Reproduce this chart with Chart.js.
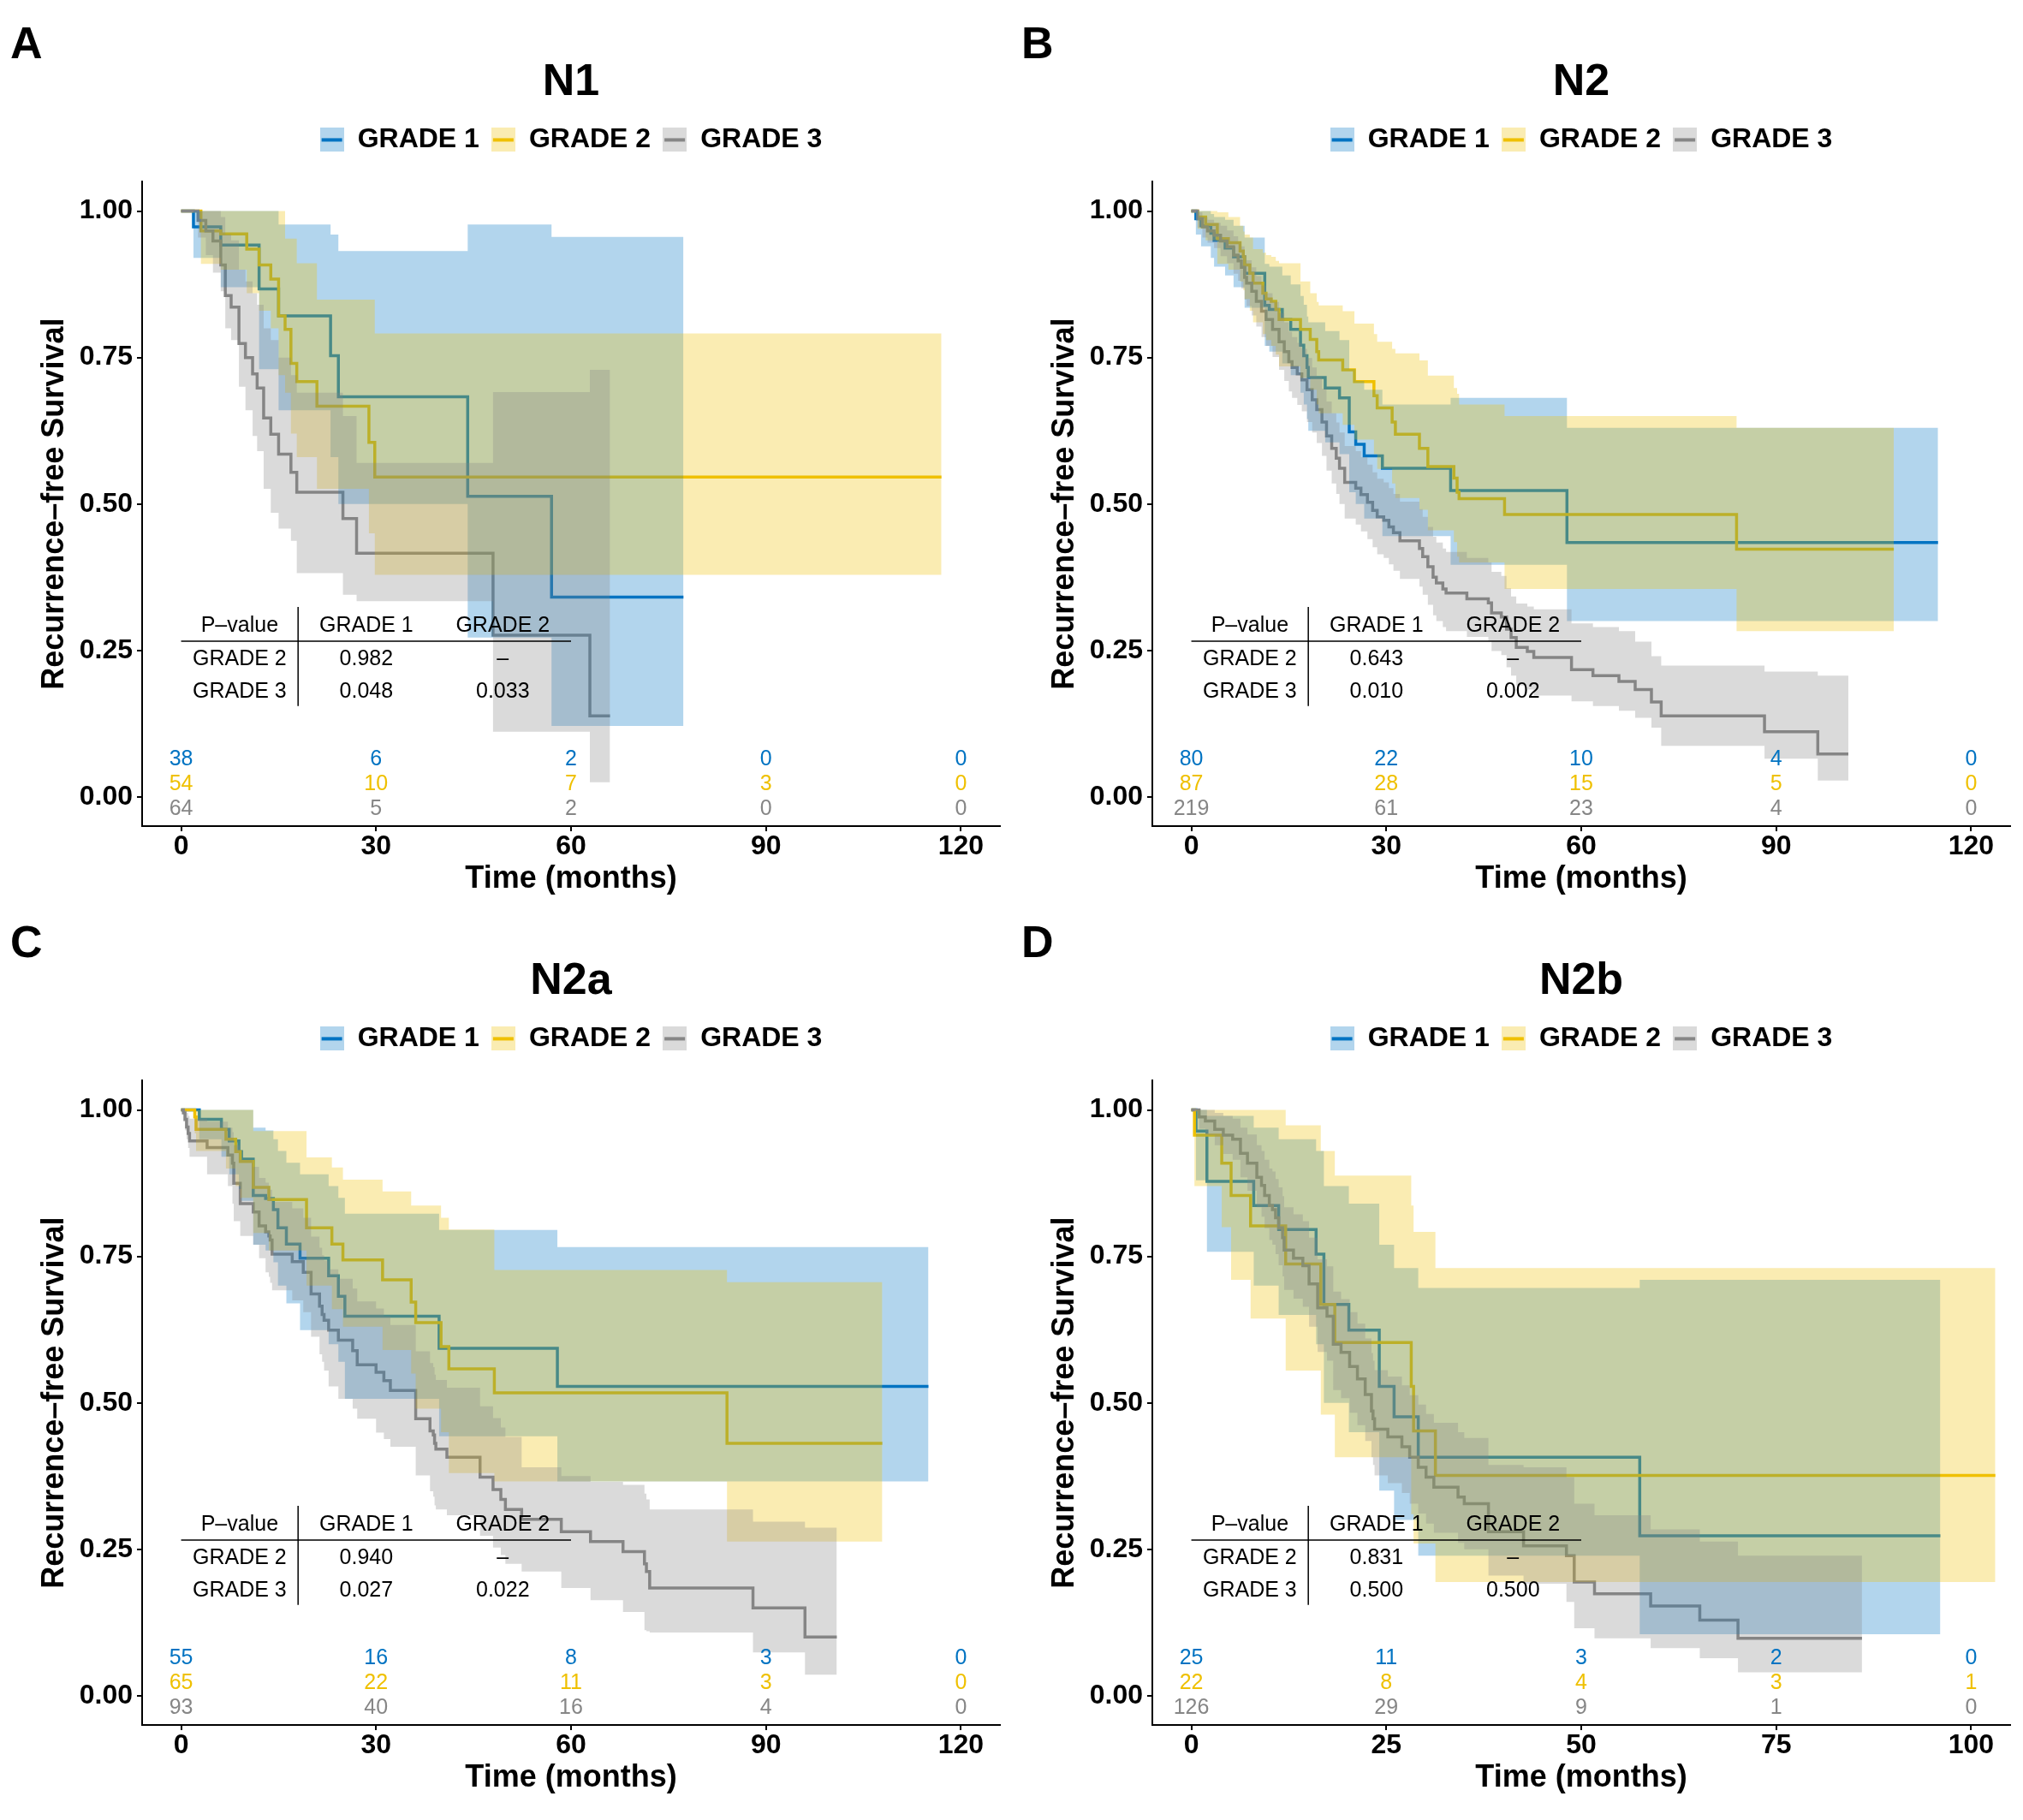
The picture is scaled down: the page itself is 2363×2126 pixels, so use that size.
<!DOCTYPE html>
<html>
<head>
<meta charset="utf-8">
<script src="https://cdn.jsdelivr.net/npm/chart.js@4.4.0/dist/chart.umd.min.js"></script>
<style>
  html, body { margin: 0; padding: 0; background: #ffffff; }
  body { width: 2363px; height: 2126px; position: relative; overflow: hidden; }
  canvas { position: absolute; }
  .lbl { position: absolute; font: bold 52px "Liberation Sans", Arial, Helvetica, sans-serif; line-height: 52px; color: #000; }
</style>
</head>
<body>
<div class="lbl" style="left:12px;top:24px;">A</div>
<div class="lbl" style="left:1193px;top:24px;">B</div>
<div class="lbl" style="left:12px;top:1074px;">C</div>
<div class="lbl" style="left:1193px;top:1074px;">D</div>
<canvas id="cA" width="1180" height="1050" style="left:0px;top:0px;"></canvas>
<canvas id="cB" width="1183" height="1050" style="left:1180px;top:0px;"></canvas>
<canvas id="cC" width="1180" height="1050" style="left:0px;top:1050px;"></canvas>
<canvas id="cD" width="1183" height="1050" style="left:1180px;top:1050px;"></canvas>
<script>
// ---------------- DATA ----------------
const GRADES = ['GRADE 1', 'GRADE 2', 'GRADE 3'];
const TITLES = ['N1', 'N2', 'N2a', 'N2b'];
const yTicks = [0, 0.25, 0.5, 0.75, 1];
const xTicks120 = [0, 30, 60, 90, 120];
const xTicks100 = [0, 25, 50, 75, 100];

// Panel A (N1)
const A_t1 = [0, 1.9, 6.1, 12.0, 15.0, 23.0, 24.2, 44.1, 57.0, 77.3];
const A_s1 = [1, 0.973, 0.942, 0.867, 0.821, 0.753, 0.683, 0.513, 0.341, 0.341];
const A_u1 = [1, 1, 1, 1, 0.977, 0.96, 0.932, 0.977, 0.956, 0.956];
const A_l1 = [1, 0.92, 0.87, 0.73, 0.66, 0.58, 0.50, 0.272, 0.121, 0.121];
const A_t2 = [0, 3.05, 6.1, 10.1, 12.0, 13.8, 15.0, 16.0, 16.9, 17.8, 20.9, 28.9, 29.8, 117.0];
const A_s2 = [1, 0.966, 0.961, 0.935, 0.908, 0.884, 0.821, 0.798, 0.740, 0.709, 0.667, 0.605, 0.546, 0.546];
const A_u2 = [1, 1, 1, 1, 1, 1, 1, 0.953, 0.953, 0.911, 0.849, 0.849, 0.791, 0.791];
const A_l2 = [1, 0.91, 0.90, 0.86, 0.83, 0.80, 0.72, 0.69, 0.62, 0.58, 0.526, 0.45, 0.379, 0.379];
const A_t3 = [0, 2.6, 3.8, 4.9, 6.1, 6.8, 7.7, 8.9, 9.9, 11.0, 11.7, 12.7, 13.8, 15.0, 16.9, 17.8, 24.9, 27.0, 48.0, 62.9, 66.0];
const A_s3 = [1, 0.984, 0.966, 0.949, 0.908, 0.856, 0.836, 0.774, 0.750, 0.722, 0.698, 0.647, 0.619, 0.585, 0.554, 0.520, 0.475, 0.416, 0.276, 0.138, 0.138];
const A_u3 = [1, 1, 1, 1, 0.99, 0.96, 0.95, 0.90, 0.88, 0.86, 0.84, 0.80, 0.78, 0.75, 0.72, 0.69, 0.65, 0.57, 0.691, 0.729, 0.729];
const A_l3 = [1, 0.955, 0.925, 0.895, 0.863, 0.80, 0.78, 0.70, 0.66, 0.616, 0.59, 0.526, 0.485, 0.458, 0.437, 0.382, 0.345, 0.334, 0.111, 0.025, 0.025];
const A_risk = [[38, 6, 2, 0, 0], [54, 10, 7, 3, 0], [64, 5, 2, 0, 0]];
const A_pval = [['0.982', '–'], ['0.048', '0.033']];

// Panel B (N2)
const B_t1 = [0, 0.7, 1.5, 3.0, 3.5, 5.2, 6.5, 8.2, 11.3, 12.0, 14.0, 15.3, 16.8, 17.3, 17.8, 18.0, 20.6, 22.8, 24.3, 25.3, 26.6, 29.4, 39.9, 57.8, 114.9];
const B_s1 = [1, 0.987, 0.975, 0.962, 0.950, 0.937, 0.922, 0.894, 0.839, 0.832, 0.815, 0.798, 0.771, 0.753, 0.733, 0.716, 0.698, 0.681, 0.623, 0.602, 0.582, 0.561, 0.523, 0.434, 0.434];
const B_u1 = [1, 1, 1, 0.995, 0.99, 0.985, 0.975, 0.955, 0.91, 0.905, 0.89, 0.875, 0.855, 0.84, 0.82, 0.81, 0.795, 0.78, 0.73, 0.71, 0.695, 0.67, 0.681, 0.63, 0.63];
const B_l1 = [1, 0.96, 0.94, 0.92, 0.905, 0.89, 0.87, 0.835, 0.77, 0.76, 0.74, 0.72, 0.69, 0.67, 0.645, 0.625, 0.605, 0.585, 0.52, 0.50, 0.475, 0.445, 0.396, 0.30, 0.30];
const B_t2 = [0, 0.96, 2.2, 4.0, 5.7, 7.5, 8.0, 8.2, 9.0, 9.5, 11.0, 11.5, 12.3, 13.0, 13.5, 16.8, 18.3, 19.3, 19.6, 23.3, 25.1, 28.1, 28.6, 30.9, 31.4, 35.1, 36.4, 40.4, 40.9, 41.2, 48.2, 83.9, 108.1];
const B_s2 = [1, 0.990, 0.977, 0.953, 0.946, 0.932, 0.922, 0.908, 0.894, 0.877, 0.860, 0.850, 0.846, 0.832, 0.815, 0.798, 0.781, 0.760, 0.746, 0.729, 0.709, 0.685, 0.664, 0.640, 0.619, 0.595, 0.564, 0.544, 0.520, 0.509, 0.482, 0.423, 0.423];
const B_u2 = [1, 1, 1, 0.998, 0.99, 0.975, 0.965, 0.96, 0.955, 0.935, 0.929, 0.925, 0.922, 0.915, 0.911, 0.88, 0.86, 0.845, 0.839, 0.829, 0.808, 0.79, 0.777, 0.765, 0.757, 0.745, 0.719, 0.698, 0.688, 0.67, 0.65, 0.63, 0.63];
const B_l2 = [1, 0.97, 0.95, 0.91, 0.90, 0.88, 0.865, 0.85, 0.83, 0.81, 0.79, 0.78, 0.77, 0.755, 0.735, 0.715, 0.695, 0.67, 0.655, 0.635, 0.61, 0.585, 0.56, 0.535, 0.51, 0.49, 0.455, 0.435, 0.41, 0.40, 0.355, 0.283, 0.283];
const B_t3 = [0, 0.96, 1.7, 2.5, 3.5, 4.5, 5.5, 6.5, 7.2, 7.7, 8.2, 8.5, 9.3, 10.0, 10.8, 11.5, 12.5, 13.5, 14.3, 15.0, 15.5, 16.3, 17.0, 17.8, 18.6, 19.3, 20.1, 20.8, 21.6, 22.3, 22.8, 23.6, 25.3, 26.1, 27.1, 27.9, 28.6, 29.6, 30.4, 31.1, 32.1, 35.1, 35.6, 36.4, 37.2, 37.7, 38.7, 39.2, 42.4, 45.7, 46.2, 47.7, 48.5, 49.2, 50.0, 51.7, 52.7, 58.5, 61.8, 65.8, 68.3, 70.8, 72.3, 88.2, 96.4, 101.1];
const B_s3 = [1, 0.987, 0.973, 0.966, 0.959, 0.949, 0.939, 0.925, 0.915, 0.904, 0.887, 0.877, 0.863, 0.846, 0.829, 0.815, 0.798, 0.777, 0.760, 0.743, 0.733, 0.722, 0.712, 0.695, 0.678, 0.661, 0.640, 0.616, 0.595, 0.578, 0.561, 0.537, 0.527, 0.516, 0.503, 0.489, 0.478, 0.472, 0.461, 0.451, 0.437, 0.424, 0.410, 0.393, 0.375, 0.365, 0.355, 0.348, 0.338, 0.331, 0.314, 0.307, 0.286, 0.272, 0.255, 0.248, 0.238, 0.217, 0.207, 0.197, 0.183, 0.162, 0.138, 0.111, 0.073, 0.073];
const B_u3 = [1, 0.998, 0.99, 0.985, 0.98, 0.975, 0.967, 0.957, 0.948, 0.94, 0.925, 0.916, 0.904, 0.889, 0.873, 0.86, 0.845, 0.826, 0.81, 0.794, 0.785, 0.775, 0.765, 0.749, 0.733, 0.717, 0.697, 0.675, 0.655, 0.639, 0.622, 0.599, 0.59, 0.58, 0.567, 0.554, 0.543, 0.537, 0.527, 0.517, 0.504, 0.491, 0.478, 0.461, 0.444, 0.434, 0.424, 0.418, 0.408, 0.40, 0.384, 0.377, 0.356, 0.342, 0.33, 0.325, 0.32, 0.296, 0.29, 0.283, 0.265, 0.24, 0.224, 0.214, 0.207, 0.207];
const B_l3 = [1, 0.972, 0.955, 0.946, 0.937, 0.923, 0.911, 0.893, 0.881, 0.868, 0.849, 0.838, 0.822, 0.803, 0.785, 0.77, 0.751, 0.729, 0.71, 0.692, 0.681, 0.669, 0.658, 0.64, 0.622, 0.604, 0.582, 0.557, 0.535, 0.517, 0.5, 0.475, 0.465, 0.453, 0.44, 0.426, 0.414, 0.408, 0.397, 0.386, 0.372, 0.359, 0.345, 0.328, 0.31, 0.3, 0.29, 0.283, 0.273, 0.266, 0.249, 0.242, 0.221, 0.207, 0.19, 0.183, 0.173, 0.163, 0.155, 0.147, 0.135, 0.118, 0.087, 0.065, 0.028, 0.028];
const B_risk = [[80, 22, 10, 4, 0], [87, 28, 15, 5, 0], [219, 61, 23, 4, 0]];
const B_pval = [['0.643', '–'], ['0.010', '0.002']];

// Panel C (N2a)
const C_t1 = [0, 2.8, 6.2, 7.4, 8.9, 9.3, 11.1, 13.0, 14.2, 14.9, 16.2, 18.3, 22.7, 24.2, 25.2, 39.7, 57.9, 115.0];
const C_s1 = [1, 0.984, 0.967, 0.947, 0.929, 0.916, 0.854, 0.849, 0.830, 0.799, 0.771, 0.747, 0.717, 0.682, 0.648, 0.593, 0.528, 0.528];
const C_u1 = [1, 1, 1, 1, 1, 1, 0.97, 0.965, 0.95, 0.93, 0.91, 0.89, 0.87, 0.85, 0.823, 0.795, 0.766, 0.766];
const C_l1 = [1, 0.95, 0.92, 0.89, 0.865, 0.845, 0.77, 0.76, 0.74, 0.70, 0.67, 0.624, 0.60, 0.57, 0.507, 0.443, 0.366, 0.366];
const C_t2 = [0, 2.1, 2.3, 6.9, 8.4, 9.1, 11.1, 13.5, 19.3, 23.2, 24.9, 31.0, 35.4, 36.1, 40.0, 41.2, 48.2, 84.0, 107.9];
const C_s2 = [1, 0.988, 0.967, 0.950, 0.929, 0.912, 0.868, 0.847, 0.799, 0.771, 0.744, 0.710, 0.672, 0.637, 0.596, 0.558, 0.517, 0.431, 0.431];
const C_u2 = [1, 1, 1, 1, 1, 1, 0.964, 0.964, 0.919, 0.902, 0.881, 0.861, 0.837, 0.837, 0.816, 0.796, 0.727, 0.706, 0.706];
const C_l2 = [1, 0.96, 0.93, 0.90, 0.87, 0.85, 0.79, 0.76, 0.70, 0.66, 0.63, 0.59, 0.55, 0.49, 0.45, 0.38, 0.366, 0.263, 0.263];
const C_t3 = [0, 0.35, 0.6, 0.84, 1.08, 1.3, 4.0, 7.2, 7.9, 8.1, 9.1, 11.1, 12.0, 13.0, 13.5, 13.7, 14.0, 17.1, 18.8, 20.0, 21.3, 21.7, 22.0, 22.7, 24.2, 26.4, 27.1, 30.0, 31.2, 32.2, 36.1, 38.3, 38.8, 39.0, 39.2, 40.9, 46.0, 48.0, 49.2, 49.9, 52.4, 58.5, 63.0, 68.0, 71.3, 71.6, 72.1, 88.0, 96.0, 100.9];
const C_s3 = [1, 0.995, 0.984, 0.971, 0.960, 0.947, 0.936, 0.923, 0.909, 0.875, 0.840, 0.826, 0.802, 0.792, 0.785, 0.778, 0.754, 0.741, 0.723, 0.686, 0.665, 0.651, 0.641, 0.624, 0.607, 0.589, 0.565, 0.552, 0.538, 0.521, 0.473, 0.452, 0.445, 0.431, 0.421, 0.407, 0.373, 0.352, 0.335, 0.318, 0.301, 0.280, 0.263, 0.246, 0.225, 0.212, 0.184, 0.150, 0.100, 0.100];
const C_u3 = [1, 1, 1, 0.995, 0.99, 0.985, 0.98, 0.97, 0.962, 0.94, 0.915, 0.903, 0.884, 0.876, 0.87, 0.864, 0.843, 0.832, 0.816, 0.784, 0.765, 0.752, 0.743, 0.728, 0.712, 0.695, 0.673, 0.661, 0.648, 0.633, 0.588, 0.568, 0.561, 0.548, 0.539, 0.526, 0.494, 0.474, 0.458, 0.442, 0.39, 0.375, 0.365, 0.36, 0.345, 0.335, 0.318, 0.297, 0.287, 0.287];
const C_l3 = [1, 0.98, 0.965, 0.95, 0.935, 0.92, 0.89, 0.87, 0.84, 0.81, 0.785, 0.77, 0.747, 0.723, 0.715, 0.705, 0.692, 0.675, 0.655, 0.613, 0.583, 0.57, 0.555, 0.528, 0.507, 0.49, 0.473, 0.449, 0.438, 0.425, 0.376, 0.349, 0.34, 0.325, 0.318, 0.308, 0.273, 0.253, 0.24, 0.225, 0.212, 0.184, 0.163, 0.143, 0.112, 0.11, 0.108, 0.074, 0.036, 0.036];
const C_risk = [[55, 16, 8, 3, 0], [65, 22, 11, 3, 0], [93, 40, 16, 4, 0]];
const C_pval = [['0.940', '–'], ['0.027', '0.022']];

// Panel D (N2b)
const D_t1 = [0, 0.6, 2.0, 8.0, 11.2, 16.0, 17.0, 20.2, 24.1, 26.0, 29.1, 57.5, 96.05];
const D_s1 = [1, 0.964, 0.878, 0.837, 0.796, 0.754, 0.668, 0.624, 0.528, 0.476, 0.407, 0.273, 0.273];
const D_u1 = [1, 1, 0.99, 0.97, 0.95, 0.93, 0.87, 0.84, 0.77, 0.73, 0.696, 0.710, 0.710];
const D_l1 = [1, 0.88, 0.758, 0.70, 0.65, 0.60, 0.50, 0.45, 0.35, 0.30, 0.239, 0.105, 0.105];
const D_t2 = [0, 0.4, 3.9, 5.1, 7.6, 12.1, 16.6, 18.4, 28.2, 28.5, 31.3, 103.1];
const D_s2 = [1, 0.957, 0.909, 0.854, 0.802, 0.737, 0.668, 0.603, 0.528, 0.452, 0.376, 0.376];
const D_u2 = [1, 1, 1, 1, 1, 0.974, 0.93, 0.888, 0.837, 0.792, 0.730, 0.730];
const D_l2 = [1, 0.87, 0.80, 0.71, 0.644, 0.555, 0.48, 0.407, 0.31, 0.26, 0.194, 0.194];
const D_t3 = [0, 1.0, 1.8, 3.0, 4.1, 5.3, 6.3, 7.2, 8.4, 9.0, 9.4, 10.0, 10.4, 10.8, 11.2, 11.7, 11.9, 13.1, 14.3, 15.1, 16.2, 17.4, 18.2, 19.2, 20.3, 21.3, 22.3, 23.1, 23.3, 23.5, 25.2, 27.0, 28.0, 29.1, 30.1, 31.1, 34.2, 35.0, 38.1, 42.6, 48.1, 49.1, 51.7, 58.9, 65.2, 70.1, 86.0];
const D_s3 = [1, 0.988, 0.981, 0.967, 0.957, 0.950, 0.926, 0.909, 0.885, 0.871, 0.854, 0.837, 0.830, 0.816, 0.799, 0.782, 0.761, 0.747, 0.734, 0.703, 0.662, 0.648, 0.600, 0.586, 0.562, 0.541, 0.514, 0.486, 0.473, 0.455, 0.442, 0.425, 0.407, 0.390, 0.373, 0.356, 0.339, 0.328, 0.280, 0.256, 0.239, 0.194, 0.174, 0.153, 0.129, 0.098, 0.098];
const D_u3 = [1, 1, 1, 0.995, 0.99, 0.985, 0.97, 0.958, 0.94, 0.93, 0.915, 0.90, 0.895, 0.882, 0.868, 0.853, 0.834, 0.822, 0.81, 0.782, 0.745, 0.733, 0.69, 0.677, 0.655, 0.635, 0.61, 0.585, 0.572, 0.556, 0.545, 0.53, 0.513, 0.497, 0.481, 0.466, 0.45, 0.44, 0.394, 0.39, 0.373, 0.328, 0.308, 0.284, 0.263, 0.239, 0.239];
const D_l3 = [1, 0.968, 0.957, 0.94, 0.925, 0.915, 0.885, 0.862, 0.834, 0.818, 0.798, 0.778, 0.77, 0.754, 0.735, 0.716, 0.693, 0.678, 0.664, 0.63, 0.587, 0.572, 0.522, 0.508, 0.483, 0.462, 0.435, 0.407, 0.394, 0.376, 0.363, 0.346, 0.328, 0.311, 0.294, 0.278, 0.261, 0.25, 0.205, 0.191, 0.16, 0.115, 0.098, 0.081, 0.064, 0.04, 0.04];
const D_risk = [[25, 11, 3, 2, 0], [22, 8, 4, 3, 1], [126, 29, 9, 1, 0]];
const D_pval = [['0.831', '–'], ['0.500', '0.500']];

// ---------------- STYLE ----------------
const FAMILY = '"Liberation Sans", Arial, Helvetica, sans-serif';
const LINE_COLORS = ['#0073C2', '#EFC000', '#868686'];
const BAND_COLORS = ['rgba(0,115,194,0.3)', 'rgba(239,192,0,0.3)', 'rgba(134,134,134,0.3)'];
Chart.defaults.font.family = FAMILY;
Chart.defaults.color = '#000';

function pts(t, v) { return t.map((x, i) => ({ x: x, y: v[i] })); }

function keyImage(i) {
  const c = document.createElement('canvas');
  c.width = 28; c.height = 28;
  const g = c.getContext('2d');
  g.fillStyle = '#ffffff'; g.fillRect(0, 0, 28, 28);
  g.fillStyle = BAND_COLORS[i]; g.fillRect(0, 0, 28, 28);
  g.strokeStyle = LINE_COLORS[i]; g.lineWidth = 4;
  g.beginPath(); g.moveTo(2, 14); g.lineTo(26, 14); g.stroke();
  return c;
}
const KEYS = [keyImage(0), keyImage(1), keyImage(2)];

const riskTablePlugin = {
  id: 'riskTable',
  afterDatasetsDraw(chart, args, o) {
    const ctx = chart.ctx;
    const xs = chart.scales.x, ys = chart.scales.y;
    const X = v => xs.getPixelForValue(v), Y = v => ys.getPixelForValue(v);
    const dy = 3;
    ctx.save();
    ctx.font = '25px ' + FAMILY;
    ctx.textAlign = 'center';
    ctx.textBaseline = 'middle';
    // numbers at risk
    const rowY = [0.068, 0.026, -0.016];
    o.risk.forEach((row, i) => {
      ctx.fillStyle = LINE_COLORS[i];
      row.forEach((v, j) => ctx.fillText(String(v), X(o.times[j]), Y(rowY[i]) + dy));
    });
    // p-value table
    const span = o.span;
    const cx = [0.075 * span, 0.2375 * span, 0.4125 * span];
    const ry = [0.296, 0.239, 0.183];
    ctx.fillStyle = '#000';
    const cells = [['P–value', 'GRADE 1', 'GRADE 2'],
                   ['GRADE 2', o.pval[0][0], o.pval[0][1]],
                   ['GRADE 3', o.pval[1][0], o.pval[1][1]]];
    cells.forEach((r, i) => r.forEach((txt, j) => ctx.fillText(txt, X(cx[j]), Y(ry[i]) + dy)));
    ctx.strokeStyle = '#000';
    ctx.lineWidth = 1.5;
    ctx.beginPath();
    ctx.moveTo(X(0), Y(0.267) + 1); ctx.lineTo(X(0.5 * span), Y(0.267) + 1);
    ctx.moveTo(X(0.15 * span), Y(0.324)); ctx.lineTo(X(0.15 * span), Y(0.155));
    ctx.stroke();
    ctx.restore();
  }
};

function makePanel(id, p) {
  const datasets = [];
  p.series.forEach((s, i) => datasets.push({
    label: GRADES[i], data: pts(s.t, s.s), borderColor: LINE_COLORS[i], borderWidth: 3.5,
    pointRadius: 0, stepped: true, fill: false, order: 6 - i
  }));
  p.series.forEach((s, i) => {
    datasets.push({ label: GRADES[i] + ' upper', data: pts(s.t, s.u), borderColor: 'transparent', borderWidth: 0,
      pointRadius: 0, stepped: true, backgroundColor: BAND_COLORS[i], fill: '+1', order: 3 - i });
    datasets.push({ label: GRADES[i] + ' lower', data: pts(s.t, s.l), borderColor: 'transparent', borderWidth: 0,
      pointRadius: 0, stepped: true, fill: false, order: 3 - i });
  });
  const axisFontTick = { size: 32, weight: 'bold', family: FAMILY };
  const axisFontTitle = { size: 36, weight: 'bold', family: FAMILY };
  new Chart(document.getElementById(id), {
    type: 'line',
    data: { datasets },
    options: {
      responsive: false, animation: false, devicePixelRatio: 1, events: [],
      layout: { padding: { left: 0, right: p.padRight, top: 0, bottom: 0 } },
      plugins: {
        tooltip: { enabled: false },
        title: { display: true, text: p.title, fullSize: false, color: '#000',
          font: { size: 52, weight: 'bold', family: FAMILY }, padding: { top: 65, bottom: 6 } },
        legend: { display: true, position: 'top', fullSize: false,
          labels: { usePointStyle: true, pointStyleWidth: 28, boxHeight: 28, padding: 14, color: '#000',
            font: { size: 32, weight: 'bold', family: FAMILY },
            generateLabels: () => GRADES.map((g, i) => ({ text: g, pointStyle: KEYS[i], fillStyle: BAND_COLORS[i],
              strokeStyle: LINE_COLORS[i], lineWidth: 0, hidden: false, datasetIndex: i, fontColor: '#000' })) } },
        riskTable: { risk: p.risk, times: p.xTicks, pval: p.pval, span: p.xTicks[p.xTicks.length - 1] }
      },
      scales: {
        x: { type: 'linear', position: 'bottom', min: p.xMin, max: p.xMax,
          afterBuildTicks: s => { s.ticks = p.xTicks.map(v => ({ value: v })); },
          afterFit: s => { s.height = 85; },
          grid: { display: true, drawOnChartArea: false, drawTicks: true, tickLength: 6, color: '#000', lineWidth: 2 },
          border: { display: true, color: '#000', width: 2 },
          ticks: { font: axisFontTick, color: '#000', padding: -1, maxRotation: 0, autoSkip: false, callback: v => String(v) },
          title: { display: true, text: 'Time (months)', color: '#000', font: axisFontTitle, padding: { top: 0, bottom: 1 } } },
        x2: { type: 'linear', position: 'top', axis: 'x', display: true, min: 0, max: 1,
          grid: { display: false, drawTicks: false }, border: { display: false }, ticks: { display: false },
          afterFit: s => { s.height = 23; } },
        y: { type: 'linear', position: 'left', min: -0.05, max: 1.05,
          afterBuildTicks: s => { s.ticks = yTicks.map(v => ({ value: v })); },
          afterFit: s => { s.width = 166; },
          grid: { display: true, drawOnChartArea: false, drawTicks: true, tickLength: 6, color: '#000', lineWidth: 2 },
          border: { display: true, color: '#000', width: 2 },
          ticks: { font: axisFontTick, color: '#000', padding: 5, autoSkip: false, callback: v => Number(v).toFixed(2) },
          title: { display: true, text: 'Recurrence–free Survival', color: '#000', font: axisFontTitle, padding: { top: 42, bottom: 0 } } }
      }
    },
    plugins: [riskTablePlugin]
  });
}

makePanel('cA', { title: TITLES[0], xMin: -6, xMax: 126, xTicks: xTicks120, padRight: 12, risk: A_risk, pval: A_pval,
  series: [{ t: A_t1, s: A_s1, u: A_u1, l: A_l1 }, { t: A_t2, s: A_s2, u: A_u2, l: A_l2 }, { t: A_t3, s: A_s3, u: A_u3, l: A_l3 }] });
makePanel('cB', { title: TITLES[1], xMin: -6, xMax: 126, xTicks: xTicks120, padRight: 15, risk: B_risk, pval: B_pval,
  series: [{ t: B_t1, s: B_s1, u: B_u1, l: B_l1 }, { t: B_t2, s: B_s2, u: B_u2, l: B_l2 }, { t: B_t3, s: B_s3, u: B_u3, l: B_l3 }] });
makePanel('cC', { title: TITLES[2], xMin: -6, xMax: 126, xTicks: xTicks120, padRight: 12, risk: C_risk, pval: C_pval,
  series: [{ t: C_t1, s: C_s1, u: C_u1, l: C_l1 }, { t: C_t2, s: C_s2, u: C_u2, l: C_l2 }, { t: C_t3, s: C_s3, u: C_u3, l: C_l3 }] });
makePanel('cD', { title: TITLES[3], xMin: -5, xMax: 105, xTicks: xTicks100, padRight: 15, risk: D_risk, pval: D_pval,
  series: [{ t: D_t1, s: D_s1, u: D_u1, l: D_l1 }, { t: D_t2, s: D_s2, u: D_u2, l: D_l2 }, { t: D_t3, s: D_s3, u: D_u3, l: D_l3 }] });
</script>
</body>
</html>
